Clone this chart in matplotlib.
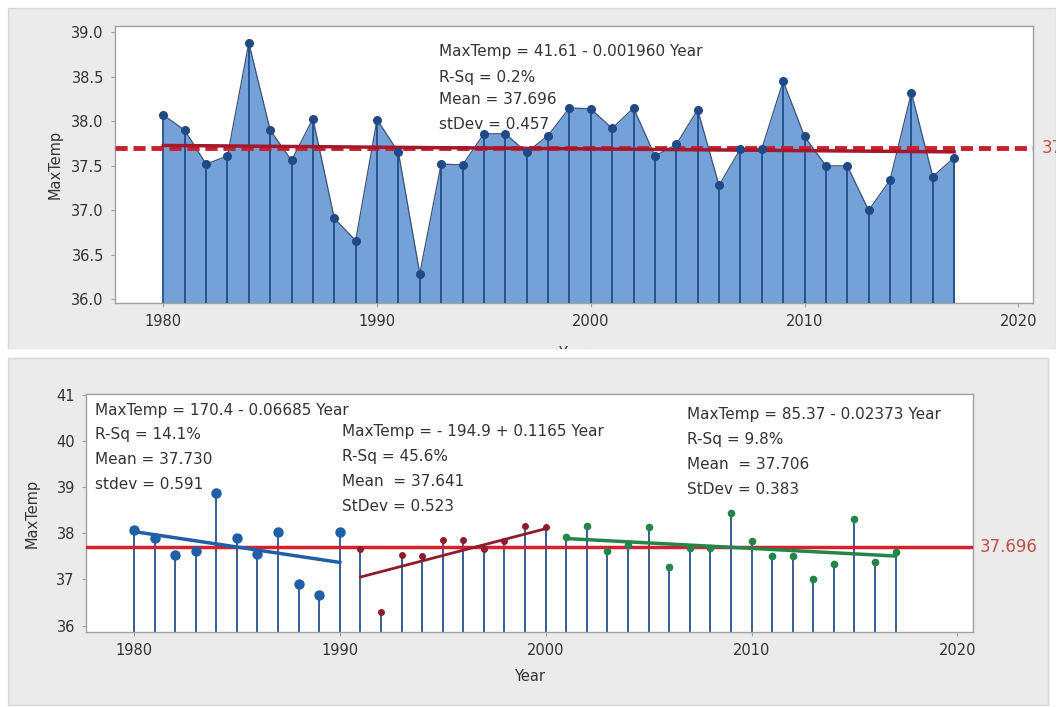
import numpy as np
import matplotlib
matplotlib.use('Agg')
import matplotlib.pyplot as plt
from matplotlib.patches import Rectangle

plt.rcParams['font.family'] = ['DejaVu Sans']

years = list(range(1980, 2018))
max_temp = [38.07, 37.90, 37.52, 37.61, 38.88, 37.90, 37.56, 38.03, 36.91, 36.66,
            38.02, 37.65, 36.29, 37.52, 37.51, 37.86, 37.86, 37.65, 37.84, 38.15,
            38.14, 37.92, 38.15, 37.61, 37.74, 38.13, 37.28, 37.69, 37.69, 38.45,
            37.83, 37.50, 37.50, 37.00, 37.34, 38.32, 37.38, 37.59]

mean_all = 37.696
mean_label = "37.696"
fit_all = (41.61, -0.001960)
top_stats = ["MaxTemp = 41.61 - 0.001960 Year", "R-Sq = 0.2%",
             "Mean = 37.696", "stDev = 0.457"]

seg_ranges = [(1980, 1990), (1991, 2000), (2001, 2017)]
seg_fits = [(170.4, -0.06685), (-194.9, 0.1165), (85.37, -0.02373)]
seg_stats = [
    ["MaxTemp = 170.4 - 0.06685 Year", "R-Sq = 14.1%", "Mean = 37.730", "stdev = 0.591"],
    ["MaxTemp = - 194.9 + 0.1165 Year", "R-Sq = 45.6%", "Mean  = 37.641", "StDev = 0.523"],
    ["MaxTemp = 85.37 - 0.02373 Year", "R-Sq = 9.8%", "Mean  = 37.706", "StDev = 0.383"],
]

W, H = 1056, 707
fig = plt.figure(figsize=(W / 100, H / 100), dpi=100)
fig.patch.set_facecolor('white')


def px_rect(x0, y0, x1, y1, **kw):
    return Rectangle((x0 / W, 1 - y1 / H), (x1 - x0) / W, (y1 - y0) / H,
                     transform=fig.transFigure, **kw)


fig.patches.append(px_rect(8, 8, 1056, 349, facecolor='#ebebeb', edgecolor='#d6d6d6',
                           lw=1, zorder=-2))
# white gap + lower panel drawn over the clipped "Year" of the top chart
fig.patches.append(px_rect(0, 349, 1056, 358, facecolor='white', edgecolor='none', zorder=0.5))
fig.patches.append(px_rect(8, 358, 1048, 705, facecolor='#ebebeb', edgecolor='#d6d6d6',
                           lw=1, zorder=0.5))

text_col = '#333333'
spine_col = '#a0a0a0'
fs = 10.5
ann_fs = 11


def style(ax):
    for s in ax.spines.values():
        s.set_color(spine_col)
        s.set_linewidth(1)
    ax.tick_params(length=3, color=spine_col, labelsize=fs, labelcolor=text_col, pad=5)
    ax.set_facecolor('white')


x = np.array(years)
y = np.array(max_temp)

# ---- top chart
ax1 = fig.add_axes([115 / W, 1 - 303 / H, 918 / W, 277 / H], zorder=0)
style(ax1)
ax1.set_xlim(1977.74, 2020.69)
ax1.set_ylim(35.96, 39.07)
bot1 = ax1.get_ylim()[0]
ax1.fill_between(x, y, bot1, color='#74a2d8', lw=0, zorder=1)
ax1.plot(x, y, color='#3b5378', lw=0.9, zorder=2)
ax1.vlines(x, bot1, y, color='#1e4d8c', lw=1.3, zorder=3)
ax1.plot(x, y, 'o', color='#1f4a86', ms=5.5, zorder=5)
ax1.axhline(mean_all, color='#c9202f', lw=3.5, dashes=(2.5, 1.2), zorder=4)
ax1.plot(x, fit_all[0] + fit_all[1] * x, color='#a3182a', lw=2.5, zorder=4)
ax1.text(2021.1, mean_all, mean_label, color='#c0504d', fontsize=12, va='center',
         clip_on=False)
ax1.set_xticks([1980, 1990, 2000, 2010, 2020])
ax1.set_yticks([36.0, 36.5, 37.0, 37.5, 38.0, 38.5, 39.0])
ax1.set_yticklabels(['%.1f' % v for v in ax1.get_yticks()])
ax1.set_ylabel('MaxTemp', fontsize=fs, color=text_col, labelpad=6)
ax1.set_xlabel('Year', fontsize=fs, color=text_col, labelpad=12)
for i, line in enumerate(top_stats):
    ax1.text(1992.92, [38.78, 38.49, 38.24, 37.96][i], line, fontsize=ann_fs,
             color=text_col, va='center', zorder=6)

# ---- bottom chart
ax2 = fig.add_axes([86 / W, 1 - 632 / H, 887 / W, 238 / H], zorder=1)
style(ax2)
ax2.set_xlim(1977.67, 2020.76)
ax2.set_ylim(35.86, 41.02)
bot2 = ax2.get_ylim()[0]
ax2.vlines(x, bot2, y, color='#27508a', lw=1.3, zorder=2)
ax2.axhline(mean_all, color='#d8202c', lw=2.5, zorder=3)
ax2.text(2021.1, mean_all, mean_label, color='#c0504d', fontsize=12, va='center',
         clip_on=False)

seg_colors = ['#1f5fa8', '#8e1c2c', '#24854a']
seg_ms = [6.5, 4, 4.5]
seg_lw = [2.5, 2.0, 2.5]
text_pos = [(1978.09, [40.66, 40.14, 39.60, 39.06]),
            (1990.12, [40.21, 39.66, 39.12, 38.58]),
            (2006.87, [40.57, 40.03, 39.50, 38.95])]
for k, (a, b) in enumerate(seg_ranges):
    m = (x >= a) & (x <= b)
    xs = x[m]
    ax2.plot(xs, y[m], 'o', color=seg_colors[k], ms=seg_ms[k], zorder=5)
    c0, c1 = seg_fits[k]
    ax2.plot(xs, c0 + c1 * xs, color=seg_colors[k], lw=seg_lw[k], zorder=4)
    tx, tys = text_pos[k]
    for line, ty in zip(seg_stats[k], tys):
        ax2.text(tx, ty, line, fontsize=ann_fs, color=text_col, va='center', zorder=6)

ax2.set_xticks([1980, 1990, 2000, 2010, 2020])
ax2.set_yticks([36, 37, 38, 39, 40, 41])
ax2.set_ylabel('MaxTemp', fontsize=fs, color=text_col, labelpad=12)
ax2.set_xlabel('Year', fontsize=fs, color=text_col, labelpad=8)

fig.savefig('out.png', dpi=100)
